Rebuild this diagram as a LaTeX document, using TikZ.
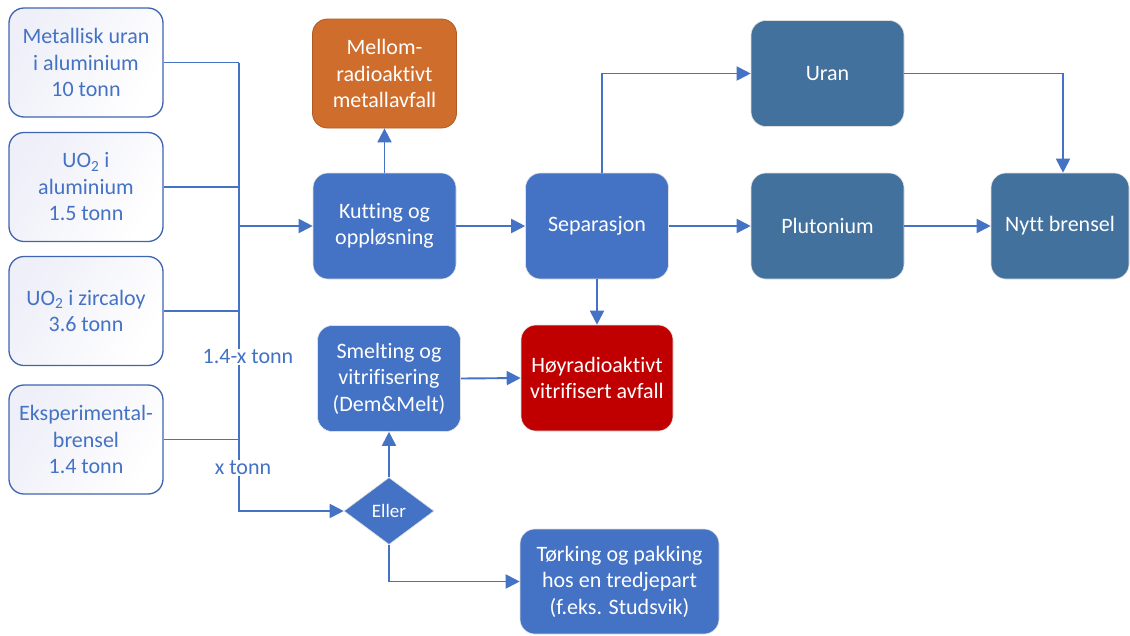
\documentclass[tikz,border=0pt]{standalone}
\usepackage{fontspec}
\setmainfont[Ligatures=NoCommon]{Carlito}
\usetikzlibrary{shapes.geometric,arrows.meta}
\definecolor{mblue}{HTML}{4472C4}
\definecolor{dblue}{HTML}{41719C}
\definecolor{morange}{HTML}{CF6D2C}
\definecolor{oborder}{HTML}{AE5A21}
\definecolor{mred}{HTML}{C00000}
\definecolor{inborder}{HTML}{3F64B0}
\definecolor{lav}{HTML}{EEEFF8}
\begin{document}
\begin{tikzpicture}[x=1pt,y=-1pt,
  base/.style={rectangle,rounded corners=15pt,align=center,inner sep=2pt,
    font=\fontsize{22}{26.5}\selectfont},
  inbox/.style={base,draw=inborder,line width=1.3pt,text=mblue,
    shading=axis,left color=lav,right color=white,shading angle=60,
    minimum width=154pt,minimum height=109pt},
  bbox/.style={base,fill=mblue,draw=black!12,line width=0.6pt,text=white,
    minimum width=143pt,minimum height=106pt},
  dbox/.style={base,fill=dblue,draw=black!12,line width=0.6pt,text=white,
    minimum width=153pt,minimum height=106pt},
  lab/.style={fill=white,text=mblue,inner sep=1pt,font=\fontsize{22}{26.5}\selectfont},
  conn/.style={draw=mblue,line width=1.9pt},
  arr/.style={conn,-{Triangle[length=14pt,width=14pt]}},
]
\useasboundingbox (0,0) rectangle (1130,635);

% inputs
\node[inbox] (in1) at (86,62.5) {Metallisk uran\\i aluminium\\10 tonn};
\node[inbox] (in2) at (86,187) {UO\textsubscript{2} i\\aluminium\\1.5 tonn};
\node[inbox] (in3) at (86,311) {UO\textsubscript{2} i zircaloy\\3.6 tonn};
\node[inbox] (in4) at (86,439.5) {Eksperimental-\\brensel\\1.4 tonn};

% process boxes
\node[bbox] (kut) at (384.5,226) {Kutting og\\oppløsning};
\node[base,fill=morange,draw=oborder,line width=0.8pt,text=white,
  minimum width=144pt,minimum height=109pt] (mel) at (384.5,73.5) {Mellom-\\radioaktivt\\metallavfall};
\node[bbox] (sep) at (597,226) {Separasjon};
\node[dbox] (ura) at (827.5,73.5) {Uran};
\node[dbox] (plu) at (827.5,226) {Plutonium};
\node[dbox,minimum width=138pt] (nyt) at (1060,226) {Nytt brensel};
\node[base,fill=mred,draw=black!12,line width=0.6pt,text=white,
  minimum width=152pt,minimum height=106pt] (hoy) at (597,378) {Høyradioaktivt\\vitrifisert avfall};
\node[bbox] (sme) at (389,378.5) {Smelting og\\vitrifisering\\(Dem\&Melt)};
\node[diamond,fill=mblue,draw=black!12,line width=0.6pt,text=white,
  minimum width=90pt,minimum height=67pt,inner sep=0pt,
  font=\fontsize{19}{22}\selectfont] (el) at (389,511) {Eller};
\node[bbox,minimum width=199pt,minimum height=105pt] (tor) at (619.5,581.5)
  {Tørking og pakking\\hos en tredjepart\\(f.eks. Studsvik)};

% bus
\coordinate (busx) at (239,0);
\draw[conn] (in1.east) -- (in1.east -| busx);
\draw[conn] (in2.east) -- (in2.east -| busx);
\draw[conn] (in3.east) -- (in3.east -| busx);
\draw[conn] (in4.east) -- (in4.east -| busx);
\draw[arr] (in1.east -| busx) -- (el.west -| busx) -- (el.west);
\draw[arr] (kut.west -| busx) -- (kut.west);
\node[lab] (l1) at (248,357) {1.4-x tonn};
\node[lab] (l2) at (243,468) {x tonn};

% flows
\draw[arr] (kut.north) -- (mel.south);
\draw[arr] (kut.east) -- (sep.west);
\draw[arr] ([xshift=5pt]sep.north) |- (ura.west);
\draw[arr] (sep.east) -- (plu.west);
\draw[arr] (plu.east) -- (nyt.west);
\draw[arr] (ura.east) -| ([xshift=3pt]nyt.north);
\draw[arr] (sep.south) -- (hoy.north);
\draw[arr] (sme.east) -- (hoy.west);
\draw[arr] (el.north) -- (sme.south);
\draw[arr] (el.south) |- (tor.west);
\end{tikzpicture}
\end{document}
